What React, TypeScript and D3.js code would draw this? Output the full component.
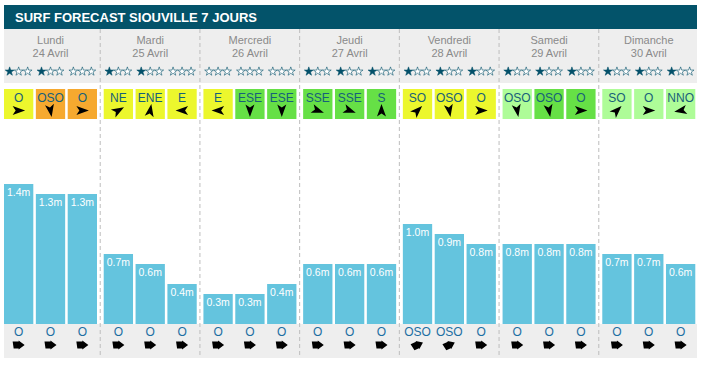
import * as d3 from "d3"

const days = ["Lundi", "Mardi", "Mercredi", "Jeudi", "Vendredi", "Samedi", "Dimanche"]
const dates = ["24 Avril", "25 Avril", "26 Avril", "27 Avril", "28 Avril", "29 Avril", "30 Avril"]

// 3 slots per day, 21 values
const stars = [1, 1, 0, 1, 1, 0, 0, 0, 0, 1, 1, 1, 1, 1, 1, 1, 1, 1, 1, 1, 1]
const windDir = ["O", "OSO", "O", "NE", "ENE", "E", "E", "ESE", "ESE", "SSE", "SSE", "S", "SO", "OSO", "O", "OSO", "OSO", "O", "SO", "O", "NNO"]
const windAngle = [0, 80, 0, -30, -80, 180, 180, 90, 90, 20, 20, -90, -45, 80, 0, 80, 80, 0, -45, 0, 170]
const windLevel = ["y", "o", "o", "y", "y", "y", "y", "g", "g", "g", "g", "g", "y", "y", "y", "l", "g", "g", "l", "l", "l"]
const swellHeight = [1.4, 1.3, 1.3, 0.7, 0.6, 0.4, 0.3, 0.3, 0.4, 0.6, 0.6, 0.6, 1.0, 0.9, 0.8, 0.8, 0.8, 0.8, 0.7, 0.7, 0.6]
const swellDir = ["O", "O", "O", "O", "O", "O", "O", "O", "O", "O", "O", "O", "OSO", "OSO", "O", "O", "O", "O", "O", "O", "O"]
const swellAngle = [0, 0, 0, 0, 0, 0, 0, 0, 0, 0, 0, 0, -25, -25, 0, 0, 0, 0, 0, 0, 0]

const FONT = "Arial, 'Liberation Sans', sans-serif"
const W = 703
const H = 365

export default function App() {
  const left = 4
  const right = 697
  const dayScale = d3.scaleBand<string>().domain(days).range([0, 698])
  const slotScale = d3.scaleBand<number>().domain([0, 1, 2]).range([4, 97]).paddingInner(0.08)
  const yScale = d3.scaleLinear().domain([0, 1]).range([324, 224])
  const windColor = d3.scaleOrdinal<string, string>()
    .domain(["y", "o", "g", "l"])
    .range(["#ecf72d", "#f6a92f", "#66e046", "#aefc98"])
  const starPath = d3.symbol().type(d3.symbolStar).size(24)() as string

  const slots = swellHeight.map((h, i) => {
    const day = days[Math.floor(i / 3)]
    const x = (dayScale(day) ?? 0) + (slotScale(i % 3) ?? 0)
    return { i, x, w: slotScale.bandwidth(), h }
  })

  return (
    <svg width={W} height={H} style={{ position: "absolute", left: 0, top: 0, background: "#fff" }} fontFamily={FONT}>
      {/* header */}
      <rect x={left} y={5} width={right - left} height={24} fill="#03536a" />
      <text x={15} y={21.5} fill="#fff" fontSize={13} fontWeight="bold">SURF FORECAST SIOUVILLE 7 JOURS</text>

      {/* gray bands */}
      <rect x={left} y={29} width={right - left} height={54} fill="#eeeeee" />
      <rect x={left} y={324} width={right - left} height={34} fill="#eeeeee" />

      {/* day labels */}
      {days.map((d, k) => {
        const cx = (dayScale(d) ?? 0) + 50.5
        return (
          <g key={d}>
            <text x={cx} y={43.5} textAnchor="middle" fill="#8a8a8a" fontSize={11}>{d}</text>
            <text x={cx} y={56.5} textAnchor="middle" fill="#8a8a8a" fontSize={11}>{dates[k]}</text>
          </g>
        )
      })}

      {/* dividers */}
      {days.slice(1).map((d) => (
        <line key={d} x1={(dayScale(d) ?? 0) + 0.5} x2={(dayScale(d) ?? 0) + 0.5} y1={29} y2={358}
          stroke="#bdbdbd" strokeWidth={1} strokeDasharray="4,3" />
      ))}

      {slots.map((s) => {
        const cx = s.x + s.w / 2
        const top = yScale(s.h)
        return (
          <g key={s.i}>
            {/* stars */}
            {[0, 1, 2].map((j) => (
              <path key={j} d={starPath} transform={`translate(${cx + (j - 1) * 9},${71.5})`}
                fill={j === 0 && stars[s.i] ? "#03506a" : "#fff"} stroke="#03506a" strokeWidth={0.6} />
            ))}
            {/* wind box */}
            <rect x={s.x} y={89} width={s.w} height={30} fill={windColor(windLevel[s.i])} />
            <text x={cx} y={102} textAnchor="middle" fill="#17607a" fontSize={12}>{windDir[s.i]}</text>
            <path d="M-6,-4.5 L6.5,0 L-6,4.5 L-3,0 Z" fill="#000"
              transform={`translate(${cx},${110.5}) rotate(${windAngle[s.i]})`} />
            {/* swell bar */}
            <rect x={s.x} y={top} width={s.w} height={324 - top} fill="#64c4de" />
            <text x={cx} y={top + 12} textAnchor="middle" fill="#fff" fontSize={10.5}>{`${s.h.toFixed(1)}m`}</text>
            <text x={cx} y={336} textAnchor="middle" fill="#1d6ea3" fontSize={12}>{swellDir[s.i]}</text>
            <path d="M-6,-3.5 L0,-3.5 L0,-4.5 L6,0 L0,4.5 L0,3.5 L-5,3.5 Z" fill="#000"
              transform={`translate(${cx},${345}) rotate(${swellAngle[s.i]})`} />
          </g>
        )
      })}
    </svg>
  )
}
